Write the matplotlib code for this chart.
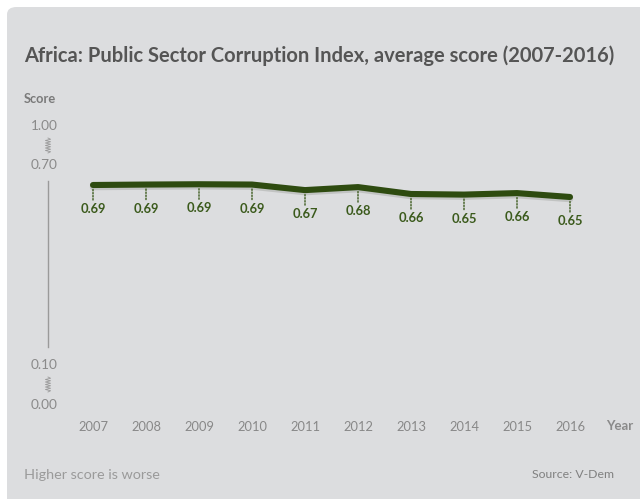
import numpy as np
import matplotlib
matplotlib.use("Agg")
import matplotlib.pyplot as plt
from matplotlib.patches import FancyBboxPatch
from matplotlib.lines import Line2D

plt.rcParams['font.family'] = ['Lato', 'DejaVu Sans']

# ---- data ----
years = [2007, 2008, 2009, 2010, 2011, 2012, 2013, 2014, 2015, 2016]
scores = [0.690, 0.6915, 0.6925, 0.6915, 0.673, 0.683, 0.660, 0.658, 0.663, 0.650]
score_labels = ["0.69", "0.69", "0.69", "0.69", "0.67", "0.68", "0.66", "0.65", "0.66", "0.65"]
ytick_values = [0.0, 0.10, 0.70, 1.00]
ytick_labels = ["0.00", "0.10", "0.70", "1.00"]
title = "Africa: Public Sector Corruption Index, average score (2007-2016)"
y_title = "Score"
x_title = "Year"
note = "Higher score is worse"
source = "Source: V-Dem"

W, H = 640, 499
fig = plt.figure(figsize=(W / 100, H / 100), dpi=100)
fig.patch.set_facecolor("white")

def fx(px):
    return np.asarray(px) / W

def fy(py):
    return 1 - np.asarray(py) / H

# panel background
panel = FancyBboxPatch((fx(7), -0.1), 1.2, fy(7) + 0.1,
                       boxstyle="round,pad=0,rounding_size=0.015",
                       transform=fig.transFigure, facecolor="#dcdddf",
                       edgecolor="none", zorder=0)
fig.add_artist(panel)

# axes region in pixels
ax_left, ax_right, ax_top, ax_bottom = 48, 600, 125, 404
ax = fig.add_axes([fx(ax_left), fy(ax_bottom), (ax_right - ax_left) / W,
                   (ax_bottom - ax_top) / H])
ax.set_facecolor("none")

# broken y scale (piecewise linear)
anc_v = np.array([0.0, 0.10, 0.65, 0.695, 0.70, 1.00])
anc_p = np.array([0.0, 40.0, 207.0, 220.5, 240.0, 279.0])

def fwd(v):
    return np.interp(v, anc_v, anc_p)

def inv(p):
    return np.interp(p, anc_p, anc_v)

ax.set_yscale("function", functions=(fwd, inv))
ax.set_ylim(0, 1.0)
px_per_year = 53.0
ax.set_xlim(2007 - (93 - ax_left) / px_per_year, 2016 + (ax_right - 570) / px_per_year)

for s in ax.spines.values():
    s.set_visible(False)

green = "#2e4b10"
label_green = "#3b5a1c"

# shadow
ax.plot(years, scores, color="#b0b2b0", lw=4.6, solid_capstyle="round",
        solid_joinstyle="round", alpha=0.6, zorder=2,
        transform=ax.transData + matplotlib.transforms.ScaledTranslation(0, -1.5 / 72, fig.dpi_scale_trans))
ax.plot(years, scores, color=green, lw=4.4, solid_capstyle="round",
        solid_joinstyle="round", zorder=3)

for x, v, lab in zip(years, scores, score_labels):
    ax.annotate("", xy=(x, v), xycoords="data", xytext=(0, -10.8),
                textcoords="offset points",
                arrowprops=dict(arrowstyle="-", linestyle=(0, (1, 1.2)), lw=1.0,
                                color=label_green, shrinkA=0, shrinkB=2.2))
    ax.annotate(lab, xy=(x, v), xytext=(0, -17.3), textcoords="offset points",
                ha="center", va="center", fontsize=9.3, fontweight="bold",
                color=label_green)

# baseline
ax.plot([2006.94, 2016.17], [0, 0], color="#eeeeef", lw=2.2, zorder=1,
        solid_capstyle="butt", transform=ax.transData +
        matplotlib.transforms.ScaledTranslation(0, -2 / 100, fig.dpi_scale_trans))

# y axis line
ax.plot([0, 0], [(ax_bottom - 347) / (ax_bottom - ax_top), (ax_bottom - 181) / (ax_bottom - ax_top)],
        transform=ax.transAxes, color="#9a9a9a", lw=1.0, clip_on=False)

ax.set_yticks(ytick_values)
ax.set_yticklabels(ytick_labels)
ax.set_xticks(years)
ax.set_xticklabels([str(y) for y in years])
ax.tick_params(axis="y", length=0, pad=-7, labelsize=9.8, labelcolor="#8a8a8a")
ax.tick_params(axis="x", length=0, pad=12, labelsize=9.3, labelcolor="#888888")
for t in ax.get_yticklabels():
    t.set_ha("right")

# break marks (zigzags)
def zigzag(xc, y0, y1, n=6, amp=2.6):
    ys = np.linspace(y0, y1, 2 * n + 1)
    xs = np.array([xc + (amp if i % 2 else -amp) for i in range(len(ys))])
    xs[0] = xc
    xs[-1] = xc
    fig.add_artist(Line2D(fx(xs), fy(ys), transform=fig.transFigure,
                          color="#9a9a9a", lw=0.6))

zigzag(48, 138, 153)
zigzag(48, 377, 392)

fig.text(fx(24), fy(56), title, fontsize=14.5, fontweight="bold",
         color="#555555", ha="left", va="center")
fig.text(fx(24), fy(99), y_title, fontsize=9.3, fontweight="bold",
         color="#7a7a7a", ha="left", va="center")
fig.text(fx(606), fy(426), x_title, fontsize=9.5, fontweight="bold",
         color="#8a8a8a", ha="left", va="center")
fig.text(fx(24), fy(475), note, fontsize=10.4, color="#9a9a9a",
         ha="left", va="center")
fig.text(fx(614), fy(475), source, fontsize=8.8, color="#808080",
         ha="right", va="center")

fig.savefig("out.png", dpi=100)
